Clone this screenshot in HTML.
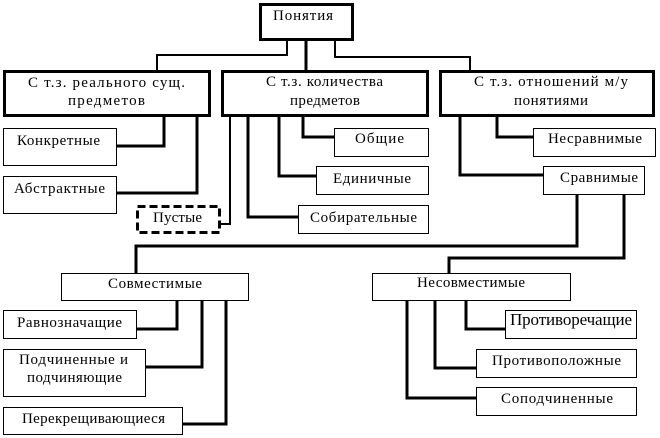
<!DOCTYPE html>
<html><head><meta charset="utf-8"><style>
html,body{margin:0;padding:0;background:#fff;}
svg{display:block;}
text{font-family:"Liberation Serif","Noto Serif CJK SC",serif;font-size:15px;fill:#000;}
</style></head><body>
<svg width="660" height="438" viewBox="0 0 660 438" xmlns="http://www.w3.org/2000/svg">
<g fill="none" stroke="#000" stroke-width="3">
<polyline points="306,41 306,70"/>
<polyline points="164,117 164,146 117,146"/>
<polyline points="197,117 197,193 117,193"/>
<polyline points="248,117 248,217 298,217"/>
<polyline points="279,117 279,176 316,176"/>
<polyline points="303,117 303,137 334,137"/>
<polyline points="497,117 497,137 533,137"/>
<polyline points="460,117 460,175 543,175"/>
<polyline points="577,195 577,246 136,246 136,273"/>
<polyline points="624,195 624,258 449,258 449,273"/>
<polyline points="177,301 177,329 137,329"/>
<polyline points="202,301 202,367 146,367"/>
<polyline points="226,301 226,424 183,424"/>
<polyline points="466,301 466,329 505,329"/>
<polyline points="435,301 435,368 476,368"/>
<polyline points="407,301 407,398 476,398"/>
</g>
<g fill="none" stroke="#000" stroke-width="2">
<polyline points="287,41 287,55 157,55 157,70"/>
<polyline points="335,41 335,57 470,57 470,70"/>
<polyline points="230,117 230,224 221,224"/>
</g>
<g fill="#fff" stroke="#000" stroke-width="3">
<rect x="260.5" y="4.5" width="92" height="35"/>
<rect x="4.5" y="71.5" width="205" height="44"/>
<rect x="222.5" y="71.5" width="205" height="44"/>
<rect x="440.5" y="71.5" width="213" height="44"/>
<rect x="137.5" y="206.5" width="82" height="26" stroke-dasharray="8,4"/>
</g>
<g fill="#fff" stroke="#000" stroke-width="1">
<rect x="3.5" y="128.5" width="113" height="37"/>
<rect x="3.5" y="176.5" width="113" height="37"/>
<rect x="334.5" y="128.5" width="94" height="28"/>
<rect x="316.5" y="166.5" width="112" height="28"/>
<rect x="298.5" y="205.5" width="130" height="28"/>
<rect x="533.5" y="128.5" width="122" height="28"/>
<rect x="543.5" y="166.5" width="101" height="28"/>
<rect x="61.5" y="273.5" width="187" height="27"/>
<rect x="372.5" y="273.5" width="198" height="27"/>
<rect x="3.5" y="310.5" width="133" height="28"/>
<rect x="3.5" y="349.5" width="142" height="47"/>
<rect x="3.5" y="407.5" width="179" height="27"/>
<rect x="505.5" y="310.5" width="131" height="28"/>
<rect x="476.5" y="349.5" width="160" height="28"/>
<rect x="476.5" y="387.5" width="160" height="28"/>
</g>
<text x="273" y="20" textLength="60" lengthAdjust="spacing">Понятия</text>
<text x="28" y="87" textLength="157" lengthAdjust="spacing">С т.з. реального  сущ.</text>
<text x="68" y="105" textLength="77" lengthAdjust="spacing">предметов</text>
<text x="266" y="86" textLength="117" lengthAdjust="spacing">С т.з. количества</text>
<text x="290" y="105" textLength="70" lengthAdjust="spacing">предметов</text>
<text x="474" y="86" textLength="154" lengthAdjust="spacing">С т.з. отношений  м/у</text>
<text x="514" y="105" textLength="74" lengthAdjust="spacing">понятиями</text>
<text x="17" y="145" textLength="83" lengthAdjust="spacing">Конкретные</text>
<text x="14" y="193" textLength="91" lengthAdjust="spacing">Абстрактные</text>
<text x="153" y="222" textLength="49" lengthAdjust="spacing">Пустые</text>
<text x="355" y="143" textLength="49" lengthAdjust="spacing">Общие</text>
<text x="333" y="183" textLength="78" lengthAdjust="spacing">Единичные</text>
<text x="310" y="222" textLength="107" lengthAdjust="spacing">Собирательные</text>
<text x="548" y="143" textLength="94" lengthAdjust="spacing">Несравнимые</text>
<text x="560" y="182" textLength="78" lengthAdjust="spacing">Сравнимые</text>
<text x="108" y="288" textLength="94" lengthAdjust="spacing">Совместимые</text>
<text x="417" y="287" textLength="108" lengthAdjust="spacing">Несовместимые</text>
<text x="17" y="327" textLength="105" lengthAdjust="spacing">Равнозначащие</text>
<text x="19" y="364" textLength="109" lengthAdjust="spacing">Подчиненные и</text>
<text x="27" y="382" textLength="95" lengthAdjust="spacing">подчиняющие</text>
<text x="22" y="423" textLength="143" lengthAdjust="spacing">Перекрещивающиеся</text>
<text x="510" y="325" textLength="122" lengthAdjust="spacing" style="font-size:17px">Противоречащие</text>
<text x="492" y="365" textLength="129" lengthAdjust="spacing">Противоположные</text>
<text x="501" y="403" textLength="112" lengthAdjust="spacing">Соподчиненные</text>
</svg>
</body></html>
